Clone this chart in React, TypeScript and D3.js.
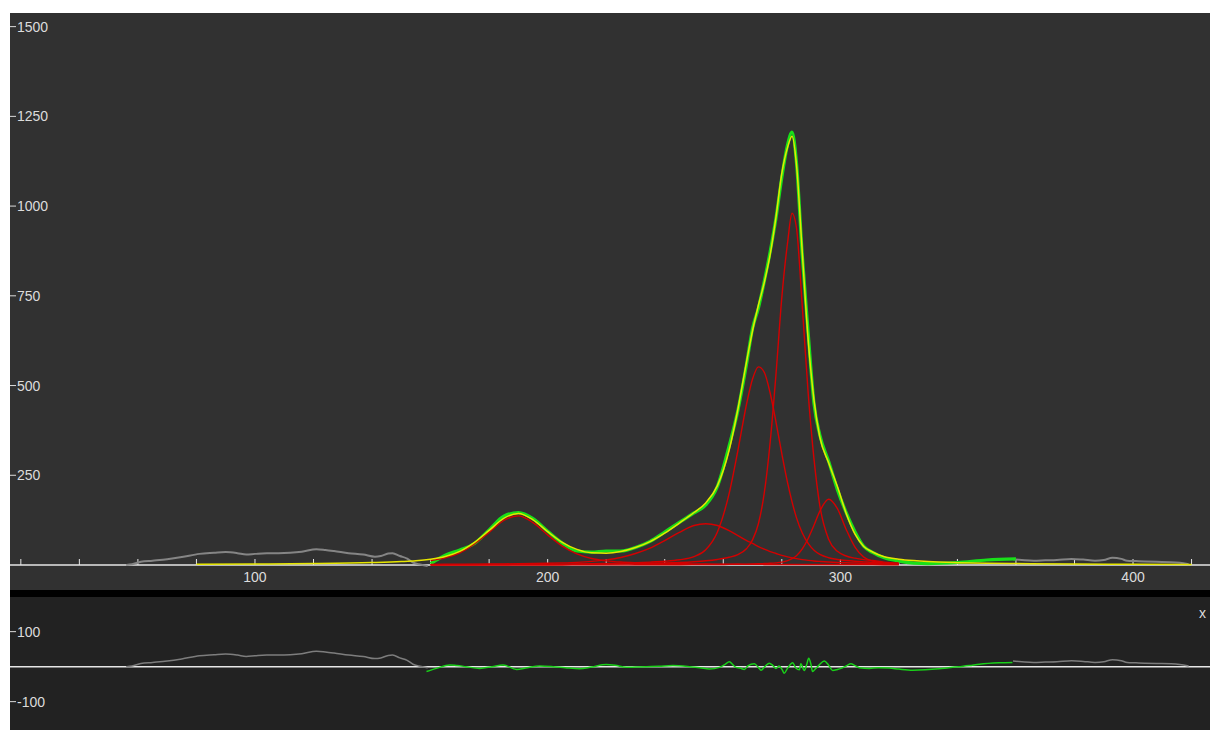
import * as d3 from 'd3';

// fit grid and the five fitted peak components
const fitX = [80, 100, 120, 140, 150, 155, 160, 165, 170, 175, 180, 185, 190, 195, 200, 205, 210, 215, 220, 225, 230, 235, 240, 245, 250, 254, 258, 262, 265, 268, 270, 272, 274, 276, 278, 280, 282, 283.5, 285, 287, 289, 291, 293, 296, 299, 302, 305, 308, 311, 315, 320, 325, 330, 340, 350, 360, 380, 400, 420];

const peakA = [0.9, 1.4, 2.2, 4.3, 6.6, 8.6, 12.7, 20, 34, 58.5, 91, 124, 137, 118, 84, 52.8, 31, 18, 11.6, 8.2, 6.3, 5.1, 4.1, 3.6, 2.9, 2.6, 2.3, 2.1, 1.9, 1.8, 1.7, 1.7, 1.6, 1.6, 1.5, 1.5, 1.5, 1.4, 1.4, 1.4, 1.3, 1.3, 1.3, 1.2, 1.2, 1.1, 1.1, 1.0, 1.0, 0.9, 0.9, 0.8, 0.7, 0.6, 0.5, 0.5, 0.3, 0.3, 0.2];
const peakB = [0.5, 0.7, 0.9, 1.2, 1.4, 1.6, 1.7, 1.9, 2.1, 2.4, 2.7, 3.1, 3.6, 4.2, 4.9, 5.9, 7.4, 10, 14.3, 21, 32, 47, 68, 91, 110, 115, 110, 95.5, 82, 68, 60, 51.5, 44, 37.4, 32, 26.7, 22.7, 20, 17.6, 15, 13, 11.3, 10, 8.3, 7, 6.1, 5.5, 4.9, 4.5, 3.5, 2.9, 2.5, 2.1, 1.6, 1.2, 1.0, 0.7, 0.5, 0.4];
const peakC = [0.3, 0.4, 0.5, 0.7, 0.8, 0.85, 0.9, 1.0, 1.1, 1.2, 1.4, 1.5, 1.7, 1.9, 2.2, 2.5, 2.9, 3.5, 4.2, 5.0, 6.3, 8.0, 10.4, 14.5, 23.2, 42.4, 92, 199, 319, 450, 518, 552, 537, 480, 399, 310, 228, 176, 132, 89, 60, 41, 29.6, 20.3, 15.5, 12.4, 10.3, 8.8, 7.5, 5, 3.8, 3, 2.4, 1.6, 1.2, 0.9, 0.6, 0.4, 0.3];
const peakD = [0.3, 0.3, 0.4, 0.5, 0.6, 0.6, 0.7, 0.75, 0.8, 0.9, 1.0, 1.1, 1.2, 1.35, 1.5, 1.7, 1.9, 2.2, 2.6, 3.1, 3.7, 4.4, 5.5, 7.0, 9.2, 11.7, 15.5, 21.5, 29, 46, 70, 115, 200, 340, 530, 745, 900, 980, 940, 720, 480, 295, 165, 72, 38, 25, 19, 15, 12.5, 8, 5.5, 4, 3, 2, 1.5, 1.1, 0.7, 0.5, 0.4];
const peakE = [0.05, 0.07, 0.08, 0.1, 0.1, 0.1, 0.1, 0.12, 0.13, 0.14, 0.15, 0.17, 0.18, 0.2, 0.2, 0.2, 0.25, 0.3, 0.35, 0.4, 0.5, 0.6, 0.7, 0.8, 1.0, 1.2, 1.4, 1.7, 2.1, 2.5, 2.9, 3.4, 4.0, 4.8, 6.0, 8.1, 12.1, 17.5, 26, 45, 74, 111, 150, 183, 157, 99, 50, 22, 10.7, 5.6, 3.2, 2, 1.4, 0.8, 0.5, 0.4, 0.2, 0.15, 0.1];
const peaks = [peakA, peakB, peakC, peakD, peakE];
const compRange = [160, 320];

// measured spectrum inside the fit window (same x as fitX 160..360)
const dataY = [4, 27, 42, 60, 98, 136, 146, 129, 94, 61, 39, 36, 39, 39, 49, 66, 92, 119, 145, 167, 219, 332, 431, 562, 659, 716, 790, 872, 966, 1080, 1172, 1206, 1122, 862, 648, 450, 362, 289, 210, 146, 93, 52, 35, 20, 11, 5, 4, 7, 14, 17];

// measured spectrum outside the fit window
const rawLeftX = [56, 58, 61, 65, 70, 75, 81, 86, 90, 94, 97, 100, 104, 108, 112, 116, 121, 124, 127, 132, 137, 141, 143, 145.5, 147, 149.5, 152, 154, 156, 159];
const rawLeftY = [0, 2, 9, 12, 16, 22, 31, 34, 36, 33, 29, 31, 33, 33, 34, 37, 44, 42, 39, 33, 29, 23, 25, 32, 33, 25, 18, 7, 2, -3];
const rawRightX = [359, 362, 366, 370, 374, 379, 383, 387, 390, 393, 396, 398, 401, 404, 408, 413, 416, 419];
const rawRightY = [16, 14, 12, 13, 14, 17, 15, 12, 14, 20, 17, 12, 11, 10, 9, 8, 6, 2];

// residuals in the fit window
const residX = [158.6, 162, 166.6, 169, 172, 176.8, 181, 184.8, 189.4, 193, 197.3, 201.9, 206, 210.9, 215, 220, 223, 226.9, 230, 233.7, 238, 242.8, 248.5, 252, 255.3, 258.7, 260.5, 262.1, 263.3, 264.3, 265.8, 267.2, 268.4, 270.6, 272, 272.9, 274.4, 275.7, 277, 278, 279.1, 280.2, 280.8, 282, 283.1, 283.7, 284.8, 286, 286.5, 287.7, 288.5, 289.2, 290, 290.5, 291.5, 292.8, 294.5, 296, 297.4, 299, 300.2, 302, 303.6, 305, 306.5, 309.9, 313, 316.7, 320, 324.7, 329, 333.8, 337, 340.6, 344, 347.5, 354.3, 358.8];
const residY = [-14, -5, 5, 3, 0, -5, 0, 5, -8, -3, 2, 0, -3, -6, -1, 6, 4, -2, -1, 0, 1, 3, 0, -3, -7, -2, 6, 14, 5, -2, -4, -8, 2, 8, -2, -10, 2, 10, 3, -5, 2, -10, -19, -4, 8, 11, -4, -9, 8, -11, 6, 24, 5, -14, -6, 5, 16, 4, -11, -8, -5, 2, 8, 3, -3, -5, -3, -4, -7, -10, -9, -6, -3, 0, 3, 7, 11, 12];

const xMinorTicks = [20, 40, 60, 80, 100, 120, 140, 160, 180, 200, 220, 240, 260, 280, 300, 320, 340, 360, 380, 400, 420];
const xLabels = [100, 200, 300, 400];
const yTopTicks = [250, 500, 750, 1000, 1250, 1500];
const yResTicks = [100, -100];

const W = 1210;
const H = 730;
const FONT = '"Liberation Sans", Arial, sans-serif';

export default function App() {
  const x = d3.scaleLinear().domain([16.3, 426.3]).range([10, W]);
  const y = d3.scaleLinear().domain([0, 1538]).range([565, 13]);
  const yr = d3.scaleLinear().domain([-181, 199]).range([H, 597]);

  const path = (xs: number[], ys: number[], sy: d3.ScaleLinear<number, number>) =>
    d3.line<number>()
      .x((_, i) => x(xs[i]))
      .y(d => sy(d))
      .curve(d3.curveMonotoneX)(ys) || '';

  const fitY = fitX.map((_, i) => d3.sum(peaks, p => p[i]));
  const dataX = fitX.filter(v => v >= 160 && v <= 360);
  const compIdx = fitX.map((v, i) => i).filter(i => fitX[i] >= compRange[0] && fitX[i] <= compRange[1]);
  const compX = compIdx.map(i => fitX[i]);

  const axisY = y(0);
  const zeroR = yr(0);

  return (
    <svg width={W} height={H} style={{ position: 'absolute', left: 0, top: 0 }} fontFamily={FONT}>
      <rect x={0} y={0} width={W} height={H} fill="#ffffff" />
      <rect x={10} y={13} width={W - 10} height={590 - 13} fill="#313131" />
      <rect x={10} y={590} width={W - 10} height={7} fill="#000000" />
      <rect x={10} y={597} width={W - 10} height={H - 597} fill="#222222" />

      {/* top panel axes */}
      <line x1={10} x2={W} y1={axisY} y2={axisY} stroke="#e6e6e6" strokeWidth={1.5} />
      {xMinorTicks.map(t => (
        <line key={t} x1={x(t)} x2={x(t)} y1={axisY} y2={axisY - 6} stroke="#e6e6e6" strokeWidth={1} />
      ))}
      {xLabels.map(t => (
        <text key={t} x={x(t)} y={axisY + 12} fill="#dcdcdc" fontSize={14} textAnchor="middle" dominantBaseline="central">{t}</text>
      ))}
      {yTopTicks.map(t => (
        <g key={t}>
          <line x1={10} x2={16} y1={y(t)} y2={y(t)} stroke="#dcdcdc" strokeWidth={1} />
          <text x={17} y={y(t)} fill="#dcdcdc" fontSize={14} dominantBaseline="central">{t}</text>
        </g>
      ))}

      {/* spectrum and fit */}
      <path d={path(rawLeftX, rawLeftY, y)} fill="none" stroke="#858585" strokeWidth={2} />
      <path d={path(rawRightX, rawRightY, y)} fill="none" stroke="#858585" strokeWidth={2} />
      <path d={path(dataX, dataY, y)} fill="none" stroke="#19e019" strokeWidth={3.2} />
      {peaks.map((p, k) => (
        <path key={k} d={path(compX, compIdx.map(i => p[i]), y)} fill="none" stroke="#d40000" strokeWidth={1.4} />
      ))}
      <path d={path(fitX, fitY, y)} fill="none" stroke="#e6e600" strokeWidth={1.5} />

      {/* residual panel */}
      <line x1={10} x2={W} y1={zeroR} y2={zeroR} stroke="#e6e6e6" strokeWidth={1.5} />
      {yResTicks.map(t => (
        <g key={t}>
          <line x1={10} x2={16} y1={yr(t)} y2={yr(t)} stroke="#dcdcdc" strokeWidth={1} />
          <text x={17} y={yr(t)} fill="#dcdcdc" fontSize={14} dominantBaseline="central">{t}</text>
        </g>
      ))}
      <path d={path(rawLeftX, rawLeftY, yr)} fill="none" stroke="#7d7d7d" strokeWidth={1.5} />
      <path d={path(rawRightX, rawRightY, yr)} fill="none" stroke="#7d7d7d" strokeWidth={1.5} />
      <path d={path(residX, residY, yr)} fill="none" stroke="#19d019" strokeWidth={1.5} />
      <text x={1199} y={613} fill="#dcdcdc" fontSize={14} dominantBaseline="central">x</text>
    </svg>
  );
}
